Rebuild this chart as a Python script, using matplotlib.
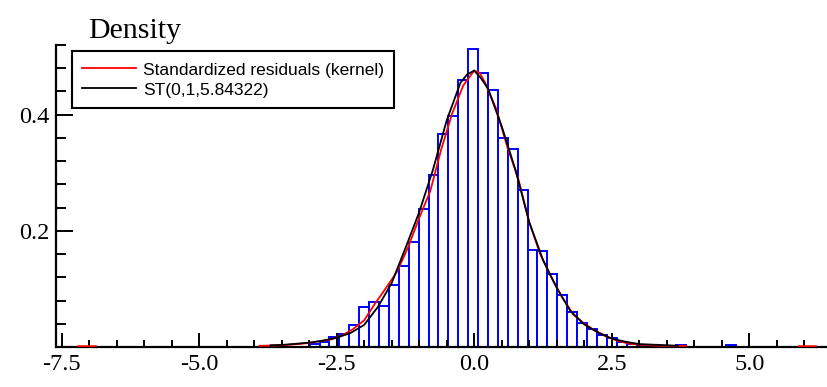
import matplotlib
matplotlib.use("Agg")
import matplotlib.pyplot as plt
import numpy as np

# histogram of standardized residuals (bin edges and density heights)
bin_width = 0.18
bin_left = [-2.99, -2.81, -2.63, -2.45, -2.27, -2.09, -1.91, -1.73, -1.55, -1.37,
            -1.19, -1.01, -0.83, -0.65, -0.47, -0.29, -0.11, 0.07, 0.25, 0.43,
            0.61, 0.79, 0.97, 1.15, 1.33, 1.51, 1.69, 1.87, 2.05, 2.23,
            2.41, 2.59, 2.77, 2.95, 3.67, 4.57]
bin_height = [0.006, 0.009, 0.018, 0.023, 0.038, 0.069, 0.077, 0.071, 0.106, 0.140,
              0.181, 0.237, 0.296, 0.366, 0.397, 0.460, 0.513, 0.471, 0.443, 0.360,
              0.341, 0.271, 0.167, 0.166, 0.125, 0.090, 0.060, 0.041, 0.031, 0.021,
              0.015, 0.009, 0.005, 0.003, 0.003, 0.003]

# kernel density of the residuals (red)
kern_x = [-3.9, -3.5, -3.2, -3.0, -2.8, -2.6, -2.4, -2.2, -2.0, -1.8, -1.6, -1.4, -1.2,
          -1.0, -0.8, -0.6, -0.4, -0.2, 0.0, 0.1, 0.2, 0.4, 0.6, 0.8, 1.0, 1.2, 1.4,
          1.6, 1.8, 2.0, 2.2, 2.4, 2.6, 2.8, 3.0, 3.2, 3.4, 3.6, 3.85]
kern_y = [0.002, 0.003, 0.005, 0.007, 0.010, 0.013, 0.020, 0.031, 0.046, 0.075, 0.102,
          0.130, 0.172, 0.222, 0.268, 0.340, 0.402, 0.450, 0.476, 0.472, 0.455, 0.410,
          0.345, 0.290, 0.215, 0.160, 0.120, 0.085, 0.056, 0.040, 0.028, 0.018, 0.011,
          0.006, 0.004, 0.003, 0.002, 0.002, 0.002]
# small kernel bumps from the two outliers
out_left_x = [-7.2, -6.9]
out_left_y = [0.001, 0.001]
out_right_x = [5.9, 6.2]
out_right_y = [0.001, 0.001]

# fitted ST(0,1,5.84322) density (black)
st_x = [-3.7, -3.5, -3.0, -2.75, -2.5, -2.25, -2.0, -1.75, -1.5, -1.25, -1.0, -0.75,
        -0.5, -0.25, -0.13, 0.0, 0.13, 0.25, 0.5, 0.75, 1.0, 1.25, 1.5, 1.75, 2.0,
        2.25, 2.5, 2.75, 3.0, 3.25, 3.5, 3.7]
st_y = [0.003, 0.0035, 0.0074, 0.011, 0.016, 0.024, 0.038, 0.069, 0.110, 0.170, 0.232,
        0.305, 0.390, 0.455, 0.469, 0.476, 0.462, 0.445, 0.380, 0.305, 0.215, 0.150,
        0.102, 0.062, 0.039, 0.025, 0.0145, 0.009, 0.005, 0.004, 0.003, 0.002]

x_ticks = [-7.5, -5.0, -2.5, 0.0, 2.5, 5.0]
y_ticks = [0.2, 0.4]

serif = ["Liberation Serif", "DejaVu Serif"]

fig = plt.figure(figsize=(8.28, 3.87), dpi=100)
ax = fig.add_axes([56 / 828, 40 / 387, 772 / 828, 302 / 387])

ax.bar(bin_left, bin_height, width=bin_width, align="edge", facecolor="white",
       edgecolor="#0000ff", linewidth=1.4, zorder=1)

ax.plot(kern_x, kern_y, color="red", linewidth=1.3, zorder=3,
        label="Standardized residuals (kernel)")
ax.plot(out_left_x, out_left_y, color="red", linewidth=1.8, zorder=3)
ax.plot(out_right_x, out_right_y, color="red", linewidth=1.8, zorder=3)
ax.plot(st_x, st_y, color="black", linewidth=1.3, zorder=3, label="ST(0,1,5.84322)")

ax.set_xlim(-7.6, 6.43)
ax.set_ylim(0, 0.52)

ax.spines["top"].set_visible(False)
ax.spines["right"].set_visible(False)
for s in ["left", "bottom"]:
    ax.spines[s].set_linewidth(1.6)

ax.set_xticks(x_ticks)
ax.set_xticklabels(["%.1f" % v for v in x_ticks])
ax.set_xticks(np.arange(-7.5, 6.5, 0.5), minor=True)
ax.set_yticks(y_ticks)
ax.set_yticklabels(["%.1f" % v for v in y_ticks])
ax.set_yticks(np.arange(0.04, 0.53, 0.04), minor=True)

ax.tick_params(axis="x", which="major", direction="in", length=10, width=1.4, pad=5)
ax.tick_params(axis="x", which="minor", direction="in", length=5, width=1.4)
ax.tick_params(axis="y", which="major", direction="in", length=12, width=1.4, pad=5)
ax.tick_params(axis="y", which="minor", direction="in", length=7, width=1.4)
for lab in ax.get_xticklabels() + ax.get_yticklabels():
    lab.set_family(serif)
    lab.set_fontsize(17.5)

fig.text(88 / 828, 1 - 38 / 387, "Density", family=serif, fontsize=21.5, va="baseline")

leg = ax.legend(loc="upper left", bbox_to_anchor=(72 / 828, 1 - 51 / 387),
                bbox_transform=fig.transFigure, borderaxespad=0, fancybox=False,
                edgecolor="black", framealpha=1, handlelength=3.1, handletextpad=0.4,
                borderpad=0.58, labelspacing=0.22, handleheight=1.0,
                prop={"family": ["Liberation Sans Narrow", "Liberation Sans"], "size": 12.5})
leg.get_frame().set_linewidth(1.5)

fig.savefig("out.png", dpi=100)
